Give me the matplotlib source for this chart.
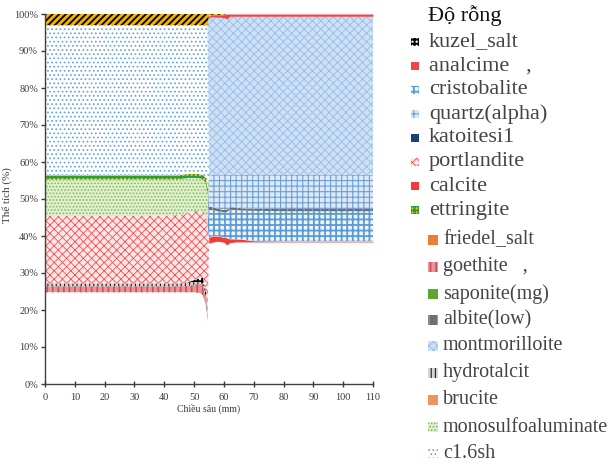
import numpy as np
import matplotlib
matplotlib.use("Agg")
import matplotlib.pyplot as plt
from matplotlib.patches import Rectangle

SERIF = ["Liberation Serif", "DejaVu Serif"]
plt.rcParams["font.family"] = SERIF

# Depth (mm) and volume fraction (%) of each phase, stacked bottom to top
depth = [0, 10, 20, 30, 40, 45, 48, 50, 52, 53, 54, 54.5, 55, 56, 58, 60, 61, 62, 64, 66, 70, 80, 90, 100, 110]

porosity = [24.8, 24.8, 24.8, 24.8, 24.8, 24.8, 24.8, 24.8, 24.6, 24.0, 21.0, 17.0,
            38.0, 38.3, 38.6, 38.3, 37.6, 38.2, 38.4, 38.4, 38.4, 38.4, 38.4, 38.4, 38.4]
goethite = [1.6, 1.6, 1.6, 1.6, 1.6, 1.6, 1.7, 2.0, 2.6, 2.8, 2.0, 0.5,
            0, 0, 0, 0, 0, 0, 0, 0, 0, 0, 0, 0, 0]
hydrotalcit = [0.8, 0.8, 0.8, 0.8, 0.8, 0.8, 0.8, 0.7, 0.4, 0.3, 0.3, 0.2,
               0, 0, 0, 0, 0, 0, 0, 0, 0, 0, 0, 0, 0]
kuzel_salt = [0, 0, 0, 0, 0, 0, 0.2, 0.6, 1.0, 1.6, 1.5, 0.5,
              0, 0, 0, 0, 0, 0, 0, 0, 0, 0, 0, 0, 0]
portlandite = [18.2, 18.2, 18.2, 18.2, 18.3, 18.5, 18.8, 18.6, 18.3, 18.0, 21.0, 25.0,
               0, 0, 0, 0, 0, 0, 0, 0, 0, 0, 0, 0, 0]
calcite = [0, 0, 0, 0, 0, 0, 0, 0, 0, 0, 0, 0,
           1.6, 1.7, 1.4, 1.3, 1.9, 1.0, 0.8, 0.7, 0.3, 0.2, 0.2, 0.2, 0.2]
cristobalite = [0, 0, 0, 0, 0, 0, 0, 0, 0, 0, 0, 0,
                7.4, 7.0, 6.7, 6.8, 7.0, 7.9, 7.8, 7.8, 8.1, 8.1, 8.1, 8.1, 8.1]
albite = [0, 0, 0, 0, 0, 0, 0, 0, 0, 0, 0, 0,
          1.0, 0.8, 0.7, 0.6, 0.6, 0.7, 0.7, 0.6, 0.6, 0.6, 0.6, 0.6, 0.6]
quartz = [0, 0, 0, 0, 0, 0, 0, 0, 0, 0, 0, 0,
          8.4, 8.7, 9.1, 9.5, 9.4, 8.7, 8.8, 9.0, 9.1, 9.2, 9.2, 9.2, 9.2]
monosulfoaluminate = [9.9, 9.9, 9.9, 9.9, 9.8, 9.6, 9.4, 9.0, 8.7, 8.5, 8.6, 8.0,
                      0, 0, 0, 0, 0, 0, 0, 0, 0, 0, 0, 0, 0]
ettringite = [1.1, 1.1, 1.1, 1.1, 1.1, 1.1, 1.1, 1.1, 1.1, 1.2, 1.3, 1.5,
              0, 0, 0, 0, 0, 0, 0, 0, 0, 0, 0, 0, 0]
c16sh = [40.6, 40.6, 40.6, 40.6, 40.6, 40.6, 40.2, 40.2, 40.3, 40.6, 41.3, 44.3,
         0, 0, 0, 0, 0, 0, 0, 0, 0, 0, 0, 0, 0]
montmorilloite = [0, 0, 0, 0, 0, 0, 0, 0, 0, 0, 0, 0,
                  42.8, 42.7, 42.7, 42.5, 42.2, 42.9, 42.9, 42.9, 42.9, 42.9, 42.9, 42.9, 42.9]
analcime = [0, 0, 0, 0, 0, 0, 0, 0, 0, 0, 0, 0,
            0.5, 0.6, 0.6, 0.8, 1.3, 0.6, 0.6, 0.6, 0.6, 0.6, 0.6, 0.6, 0.6]
hydrogarnet_rest = [3.0, 3.0, 3.0, 3.0, 3.0, 3.0, 3.0, 3.0, 3.0, 3.0, 3.0, 3.0,
                    0.3, 0.2, 0.2, 0.2, 0, 0, 0, 0, 0, 0, 0, 0, 0]
katoitesi1 = [0, 0, 0, 0, 0, 0, 0, 0, 0, 0, 0, 0, 0, 0, 0, 0, 0, 0, 0, 0, 0, 0, 0, 0, 0]
friedel_salt = [0, 0, 0, 0, 0, 0, 0, 0, 0, 0, 0, 0, 0, 0, 0, 0, 0, 0, 0, 0, 0, 0, 0, 0, 0]
saponite = [0, 0, 0, 0, 0, 0, 0, 0, 0, 0, 0, 0, 0, 0, 0, 0, 0, 0, 0, 0, 0, 0, 0, 0, 0]
brucite = [0, 0, 0, 0, 0, 0, 0, 0, 0, 0, 0, 0, 0, 0, 0, 0, 0, 0, 0, 0, 0, 0, 0, 0, 0]

x_ticks = [0, 10, 20, 30, 40, 50, 60, 70, 80, 90, 100, 110]
y_ticks = [0, 10, 20, 30, 40, 50, 60, 70, 80, 90, 100]

# name -> (values, face colour, hatch, hatch colour, hatch width)
styles = {
    "Độ rỗng": (porosity, "#ffffff", None, "#ffffff", 1.0),
    "goethite": (goethite, "#e8959a", "|||", "#c9505a", 1.2),
    "hydrotalcit": (hydrotalcit, "#d4d4d4", "||||", "#202020", 0.8),
    "kuzel_salt": (kuzel_salt, "#ffffff", "++++", "#000000", 1.4),
    "portlandite": (portlandite, "#fde6e6", "xxxx", "#f25050", 0.6),
    "calcite": (calcite, "#f23c3c", None, "#f23c3c", 1.0),
    "cristobalite": (cristobalite, "#eef4fb", "+++", "#5b9bd5", 1.3),
    "albite(low)": (albite, "#6e6e6e", "||", "#9a9a9a", 1.0),
    "quartz(alpha)": (quartz, "#dde9f6", "+++", "#6d9fd8", 0.8),
    "monosulfoaluminate": (monosulfoaluminate, "#e0efcf", ".....", "#82bd58", 0.8),
    "ettringite": (ettringite, "#ffc000", "++++", "#23a040", 1.5),
    "c1.6sh": (c16sh, "#ffffff", "....", "#6ea6e0", 0.8),
    "montmorilloite": (montmorilloite, "#cfe1f4", "xxxx", "#9dc0e8", 0.7),
    "analcime": (analcime, "#f24444", None, "#f24444", 1.0),
    "other": (hydrogarnet_rest, "#f2b400", "/////", "#000000", 1.3),
    "katoitesi1": (katoitesi1, "#1f3e7a", None, "#1f3e7a", 1.0),
    "friedel_salt": (friedel_salt, "#ed7d31", None, "#ed7d31", 1.0),
    "saponite(mg)": (saponite, "#5aa832", None, "#5aa832", 1.0),
    "brucite": (brucite, "#f0955a", None, "#f0955a", 1.0),
}

fig = plt.figure(figsize=(6.16, 4.66), dpi=100)
W, H = 616.0, 466.0
ax = fig.add_axes([45 / W, 1 - 384 / H, 328 / W, 370 / H])

x = np.array(depth, dtype=float)
base = np.zeros_like(x)
for name, (vals, face, hatch, hcol, hlw) in styles.items():
    top = base + np.array(vals, dtype=float)
    with plt.rc_context({"hatch.linewidth": hlw}):
        coll = ax.fill_between(x, base, top, facecolor=face, edgecolor=hcol,
                               hatch=hatch, linewidth=0)
        if hasattr(coll, "set_hatch_linewidth"):
            coll.set_hatch_linewidth(hlw)
    base = top

ax.set_xlim(0, 110)
ax.set_ylim(0, 100)
ax.set_xticks(x_ticks)
ax.set_yticks(y_ticks)
ax.set_xticklabels([str(t) for t in x_ticks])
ax.set_yticklabels([f"{t}%" for t in y_ticks])
for side in ("top", "right"):
    ax.spines[side].set_visible(False)
for side in ("left", "bottom"):
    ax.spines[side].set_color("#404040")
    ax.spines[side].set_linewidth(1.0)
ax.tick_params(axis="x", direction="inout", length=5, width=1, pad=4,
               labelsize=7.5, colors="#3a3a3a")
ax.tick_params(axis="y", direction="out", length=3, width=1, pad=2,
               labelsize=7.5, colors="#3a3a3a")
ax.set_xlabel("Chiều sâu (mm)", fontsize=7, color="#3a3a3a", labelpad=1)
ax.set_ylabel("Thể tích (%)", fontsize=8, color="#3a3a3a")
ax.yaxis.set_label_coords(-0.10, 0.51)

# Legend drawn as a column of swatches beside the axes
fig.text(428 / W, 1 - 16 / H, "Độ rỗng", fontsize=16, color="#111111",
         va="center", ha="left")

group1 = [("kuzel_salt", 42), ("analcime", 66), ("cristobalite", 90),
          ("quartz(alpha)", 114), ("katoitesi1", 138), ("portlandite", 162),
          ("calcite", 186), ("ettringite", 210)]
group2 = [("friedel_salt", 240), ("goethite", 267), ("saponite(mg)", 294),
          ("albite(low)", 320), ("montmorilloite", 346), ("hydrotalcit", 373),
          ("brucite", 400), ("monosulfoaluminate", 427), ("c1.6sh", 453)]
label_text = {"analcime": "analcime   ,", "goethite": "goethite   ,"}


def swatch(name, px, py, size):
    _, face, hatch, hcol, hlw = styles[name]
    with plt.rc_context({"hatch.linewidth": hlw}):
        r = Rectangle((px / W, 1 - (py + size / 2) / H), size / W, size / H,
                      transform=fig.transFigure, facecolor=face, edgecolor=hcol,
                      hatch=hatch, linewidth=0)
        if hasattr(r, "set_hatch_linewidth"):
            r.set_hatch_linewidth(hlw)
    fig.add_artist(r)


for name, py in group1:
    swatch(name, 411, py, 8)
    fig.text(429 / W, 1 - py / H, label_text.get(name, name), fontsize=16,
             color="#444444", va="center", ha="left")
for name, py in group2:
    swatch(name, 428, py, 10)
    fig.text(443 / W, 1 - py / H, label_text.get(name, name), fontsize=14.5,
             color="#444444", va="center", ha="left")

fig.savefig("out.png", dpi=100)
